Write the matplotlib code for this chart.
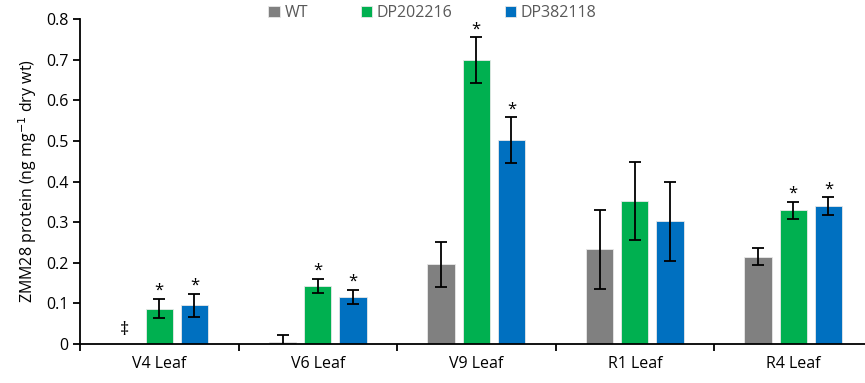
import matplotlib.pyplot as plt
import numpy as np

plt.rcParams['font.family'] = ['Open Sans', 'DejaVu Sans']

stages = ["V4 Leaf", "V6 Leaf", "V9 Leaf", "R1 Leaf", "R4 Leaf"]
series = ["WT", "DP202216", "DP382118"]
colors = ["#808080", "#00B050", "#0070C0"]

wt = [0.0, 0.004, 0.196, 0.233, 0.215]
wt_err = [0.0, 0.017, 0.056, 0.098, 0.021]
dp202216 = [0.087, 0.143, 0.699, 0.352, 0.329]
dp202216_err = [0.024, 0.018, 0.056, 0.097, 0.021]
dp382118 = [0.095, 0.116, 0.502, 0.302, 0.339]
dp382118_err = [0.029, 0.018, 0.056, 0.098, 0.022]

# significance marks per series
wt_sig = [False, False, False, False, False]
dp202216_sig = [True, True, True, False, True]
dp382118_sig = [True, True, True, False, True]

vals = [wt, dp202216, dp382118]
errs = [wt_err, dp202216_err, dp382118_err]
sigs = [wt_sig, dp202216_sig, dp382118_sig]

fig = plt.figure(figsize=(8.65, 3.83), dpi=100)
ax = fig.add_axes([80/865, 1-344/383, 792.5/865, 325/383])

x = np.arange(len(stages))
offs = [-0.222, 0.0, 0.222]
w = 0.172
for i in range(3):
    ax.bar(x + offs[i], vals[i], w, color=colors[i], edgecolor="#e8e8e8",
           linewidth=0.6, label=series[i], zorder=2)
    for j in range(len(stages)):
        if i == 0 and j == 0:
            continue
        ax.errorbar(x[j] + offs[i], vals[i][j], yerr=errs[i][j], fmt="none",
                    ecolor="black", elinewidth=1.3, capsize=4, capthick=1.3, zorder=3)
        if sigs[i][j]:
            ax.text(x[j] + offs[i], vals[i][j] + errs[i][j] + 0.0, "*",
                    ha="center", va="bottom", fontsize=12)

# WT at V4 not detected
ax.text(x[0] + offs[0], 0.034, "\u2021", ha="center", va="center", fontsize=13)

ax.set_xlim(-0.5, 4.5)
ax.set_ylim(0, 0.8)
ax.set_yticks(np.arange(0, 0.81, 0.1))
ax.set_yticklabels(["0"] + ["%.1f" % v for v in np.arange(0.1, 0.81, 0.1)])
ax.set_xticks(x)
ax.set_xticklabels(stages)
ax.set_xticks(np.arange(-0.5, 4.6, 1.0), minor=True)
ax.tick_params(axis="x", which="major", length=0, pad=9, labelsize=11.5)
ax.tick_params(axis="x", which="minor", length=5, width=1.3, direction="out")
ax.tick_params(axis="y", length=5, width=1.3, direction="out", labelsize=11.5)
ax.spines["top"].set_visible(False)
ax.spines["right"].set_visible(False)
ax.spines["left"].set_linewidth(1.3)
ax.spines["bottom"].set_linewidth(1.3)
ax.set_ylabel("ZMM28 protein (ng mg$^{-1}$ dry wt)", fontsize=11.5, labelpad=5)

fig.legend(loc="upper center", bbox_to_anchor=(0.5, 1.025), ncol=3, frameon=False,
           fontsize=11.5, handlelength=0.7, handleheight=0.7, columnspacing=3.3,
           handletextpad=0.3, labelcolor="#595959")

fig.savefig("out.png", dpi=100)
